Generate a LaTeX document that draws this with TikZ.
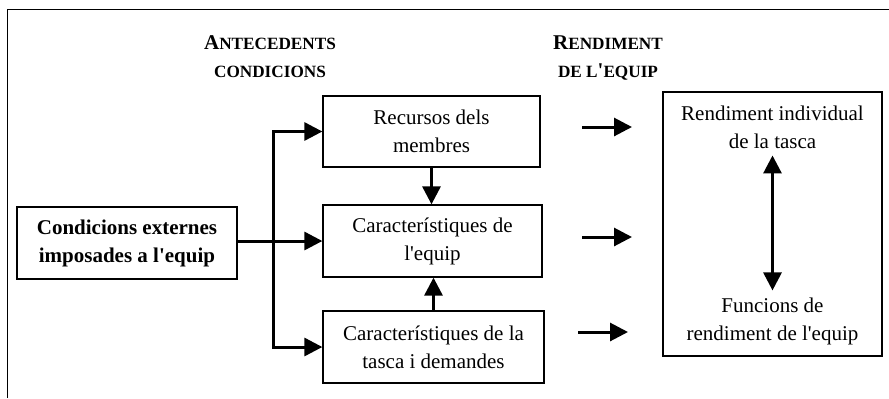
\documentclass[tikz,border=0pt]{standalone}
\usepackage{fontspec}
\setmainfont{Liberation Serif}
\usetikzlibrary{arrows.meta}

\newcommand{\hdbig}[1]{{\fontsize{10.5}{14}\selectfont #1}}
\newcommand{\hdsmall}[1]{{\fontsize{8.6}{14}\selectfont #1}}

\begin{document}
\begin{tikzpicture}[x=0.5pt,y=-0.5pt,font=\fontsize{10.5}{14}\selectfont,
	box/.style={draw,line width=0.65pt,align=center,inner sep=0pt},
	arr/.style={line width=1.5pt,-{Triangle[length=9pt,width=9pt]}},
	dblarr/.style={line width=1.5pt,{Triangle[length=9pt,width=9pt]}-{Triangle[length=9pt,width=9pt]}}]
	\useasboundingbox (0,0) rectangle (889,398);
	\draw[line width=0.5pt] (7,398) -- (7,9) -- (889,9);
	% headings
	\node[font=\bfseries] (ante) at (270,43) {\hdbig{A}\hdsmall{NTECEDENTS}};
	\node[font=\bfseries] (cond) at (270,72) {\hdsmall{CONDICIONS}};
	\node[font=\bfseries] (rend) at (608,43) {\hdbig{R}\hdsmall{ENDIMENT}};
	\node[font=\bfseries] (deleq) at (608,72) {\hdsmall{DE L}\hdbig{\textquotesingle}\hdsmall{EQUIP}};
	% boxes
	\node[box,font=\fontsize{10.5}{14}\selectfont\bfseries,minimum width=110pt,minimum height=36pt] (ext) at (127,243) {Condicions externes\\imposades a l\textquotesingle equip};
	\node[box,minimum width=108.5pt,minimum height=35.5pt] (rec) at (431.5,131.5) {Recursos dels\\membres};
	\node[box,minimum width=109.5pt,minimum height=36pt] (car) at (432.5,241) {Característiques de\\l\textquotesingle equip};
	\node[box,minimum width=110.5pt,minimum height=36pt] (tasca) at (433.5,347) {Característiques de la\\tasca i demandes};
	\node[box,minimum width=109.5pt,minimum height=132pt] (perf) at (772.5,224) {};
	\node[align=center] (indiv) at (772.5,127) {Rendiment individual\\de la tasca};
	\node[align=center] (func) at (772.5,321) {Funcions de\\rendiment de l\textquotesingle equip};
	% connectors
	\coordinate (fork) at (273,241);
	\draw[arr] (ext.east |- car.west) -- (car.west);
	\draw[dblarr] (rec.west) -| (fork) |- (tasca.west);
	\draw[arr] (rec.south) -- (rec.south |- car.north);
	\draw[arr] (tasca.north) -- (tasca.north |- car.south);
	\draw[dblarr] (indiv) -- (func);
	%\draw[arr] (rec.east) -- (perf.west);
	\coordinate (p1) at (582,127);
	\coordinate (q1) at (632,127);
	\coordinate (p2) at (582,237);
	\coordinate (q2) at (632,237);
	\coordinate (p3) at (578,332);
	\coordinate (q3) at (628,332);
	\draw[arr] (p1) -- (q1);
	\draw[arr] (p2) -- (q2);
	\draw[arr] (p3) -- (q3);
\end{tikzpicture}
\end{document}
